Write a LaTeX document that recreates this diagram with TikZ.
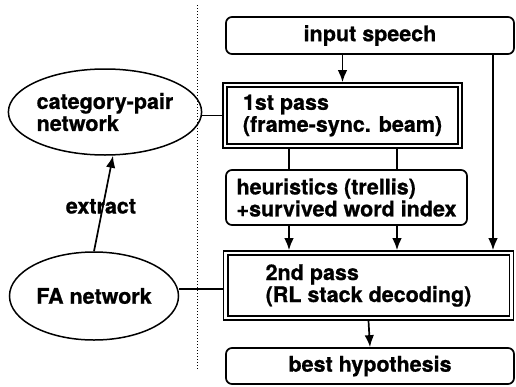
\documentclass[tikz,border=0pt]{standalone}
\usepackage{fontspec}
\setmainfont[BoldFeatures={FakeBold=0.8}]{TeX Gyre Heros}
\usetikzlibrary{arrows.meta,shapes.geometric}
\begin{document}
\begin{tikzpicture}[x=1pt,y=-1pt,
  font=\fontsize{21.5}{22}\selectfont\bfseries,
  box/.style={draw, line width=1.7pt, rounded corners=6pt, inner sep=0pt, align=center},
  dblbox/.style={draw, line width=1.6pt, inner sep=0pt, align=left},
  ell/.style={draw, ellipse, line width=1.5pt, inner sep=0pt, align=left},
  arr/.style={-{Latex[length=12pt,width=9.5pt]}, line width=1.7pt},
  conn/.style={line width=1.7pt}]
\useasboundingbox (0,0) rectangle (516,386);
% boxes
\node[box, minimum width=288pt, minimum height=37pt] (is) at (370,35.5) {input speech};
\node[dblbox, minimum width=239pt, minimum height=65pt] (p1) at (342.5,115.5) {1st pass\\(frame-sync. beam)};
\draw[line width=1.6pt] ([shift={(5,5)}]p1.north west) rectangle ([shift={(-5,-5)}]p1.south east);
\node[box, align=left, minimum width=241pt, minimum height=55pt] (h) at (346.5,197.5) {heuristics (trellis)\\+survived word index};
\node[dblbox, minimum width=290pt, minimum height=69pt] (p2) at (368.5,285.5) {2nd pass\\(RL stack decoding)};
\draw[line width=1.6pt] ([shift={(5,5)}]p2.north west) rectangle ([shift={(-5,-5)}]p2.south east);
\node[box, minimum width=288pt, minimum height=36pt] (best) at (370,366) {best hypothesis};
% ellipses
\node[ell, minimum width=170pt, minimum height=86pt] (cat) at (105,112) {category-pair\\network};
\node[ell, minimum width=169pt, minimum height=88pt] (fa) at (94,296) {FA network};
% dotted separator
\coordinate (dtop) at (197,5);
\coordinate (dbot) at (197,370);
\draw[dotted, line width=1pt] (dtop) -- (dbot);
% helper columns
\coordinate (c1) at (289,0);
\coordinate (c2) at (397,0);
\coordinate (c3) at (493,0);
% connectors
\draw[arr] (is.south -| p1.north) -- (p1.north);
\draw[conn] (c1 |- p1.south) -- (c1 |- h.north);
\draw[conn] (c2 |- p1.south) -- (c2 |- h.north);
\draw[arr] (c1 |- h.south) -- (c1 |- p2.north);
\draw[arr] (c2 |- h.south) -- (c2 |- p2.north);
\draw[arr] (c3 |- is.south) -- (c3 |- p2.north);
\draw[arr] (p2.south) -- (best.north);
\draw[conn] (p1.west) -- (p1.west -| cat.east);
\coordinate (p2w) at ([yshift=-3.5pt]p2.west);
\draw[conn] (p2w) -- (p2w -| fa.east);
\coordinate (cattip) at ([xshift=8pt]cat.south);
\draw[arr] (fa.north) -- (cattip) node[pos=0.47, xshift=-2pt] {extract};
\end{tikzpicture}
\end{document}
